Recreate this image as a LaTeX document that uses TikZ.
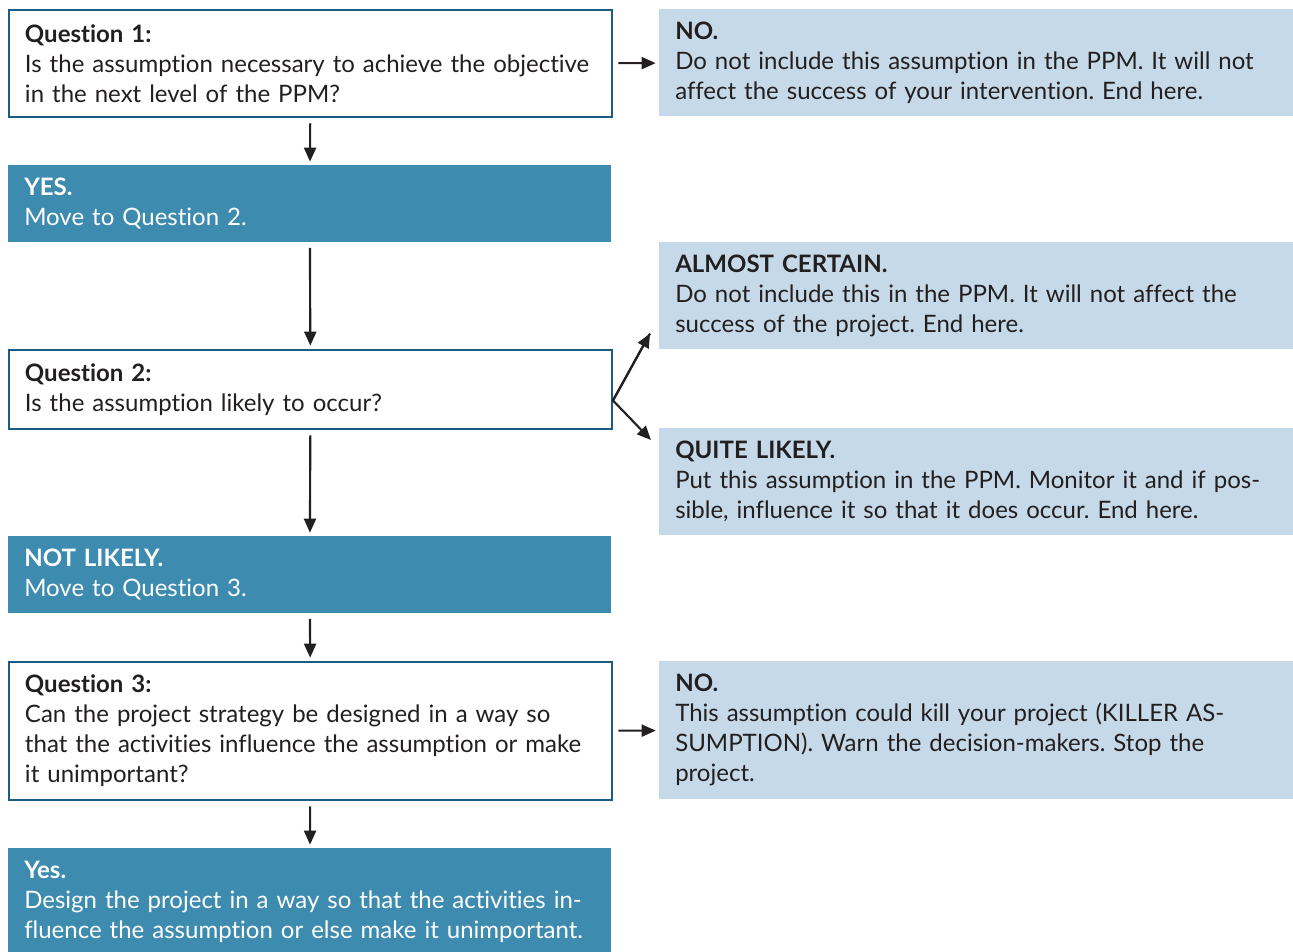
\documentclass[tikz,border=0pt]{standalone}
\usepackage{fontspec}
\setmainfont{Lato}[Ligatures=NoCommon]
\usetikzlibrary{arrows.meta,calc}

\definecolor{qline}{RGB}{28,92,130}
\definecolor{darkbox}{RGB}{62,139,176}
\definecolor{lightbox}{RGB}{197,217,232}
\definecolor{ink}{RGB}{35,31,32}

\frenchspacing

\begin{document}
\begin{tikzpicture}[x=0.75pt,y=-0.75pt,
  font=\fontsize{18}{22.5}\selectfont,
  box/.style={anchor=north west, inner xsep=12pt, inner ysep=0pt,
    align=left, text width=428.25pt, minimum width=452.25pt},
  question/.style={box, draw=qline, line width=1.5pt, fill=white, text=ink},
  answer/.style={box, fill=darkbox, text=white},
  outcome/.style={anchor=north west, inner xsep=12pt, inner ysep=0pt,
    align=left, text width=451.5pt, minimum width=475.5pt,
    fill=lightbox, text=ink},
  arr/.style={-{Triangle[length=10.5pt,width=9pt]}, line width=1.6pt, ink,
    shorten <=4pt, shorten >=2.5pt}]

\useasboundingbox (0,0) rectangle (1293,952);

% left column
\node[question, minimum height=80.25pt] (q1) at (8,9)
  {\textbf{Question 1:}\\Is the assumption necessary to achieve the objective\\in the next level of the PPM?};
\node[answer, minimum height=57.75pt] (yes1) at (8,165)
  {\textbf{YES.}\\Move to Question 2.};
\node[question, minimum height=59.25pt] (q2) at (8,349)
  {\textbf{Question 2:}\\Is the assumption likely to occur?};
\node[answer, minimum height=57.75pt] (notlikely) at (8,536)
  {\textbf{NOT LIKELY.}\\Move to Question 3.};
\node[question, minimum height=103.5pt] (q3) at (8,661)
  {\textbf{Question 3:}\\Can the project strategy be designed in a way so\\that the activities influence the assumption or make\\it unimportant?};
\node[answer, minimum height=81pt] (yes3) at (8,848)
  {\textbf{Yes.}\\Design the project in a way so that the activities in-\\fluence the assumption or else make it unimportant.};

% right column
\node[outcome, minimum height=80.25pt] (no1) at (659,9)
  {\textbf{NO.}\\Do not include this assumption in the PPM. It will not\\affect the success of your intervention. End here.};
\node[outcome, minimum height=80.25pt] (certain) at (659,242)
  {\textbf{ALMOST CERTAIN.}\\Do not include this in the PPM. It will not affect the\\success of the project. End here.};
\node[outcome, minimum height=80.25pt] (quite) at (659,428)
  {\textbf{QUITE LIKELY.}\\Put this assumption in the PPM. Monitor it and if pos-\\sible, influence it so that it does occur. End here.};
\node[outcome, minimum height=103.5pt] (no3) at (659,661)
  {\textbf{NO.}\\This assumption could kill your project (KILLER AS-\\SUMPTION). Warn the decision-makers. Stop the\\project.};

% arrows
\draw[arr] (q1) -- (no1);
\draw[arr] (q3) -- (no3);
\draw[arr] (q1) -- (yes1);
\draw[arr] (yes1) -- (q2);
\draw[arr] (q2) -- (notlikely);
\draw[arr] (notlikely) -- (q3);
\draw[arr] (q3) -- (yes3);

\coordinate (fork) at ($(q2.east)+(0,11)$);
\coordinate (up) at ($(certain.south west)+(-9,-16)$);
\coordinate (down) at ($(quite.north west)+(-8,12)$);
\draw[arr, shorten <=0pt, shorten >=0pt, line join=round] (up) -- (fork) -- (down);
\draw[arr, shorten <=0pt, shorten >=0pt] (fork) -- (up);

\end{tikzpicture}
\end{document}
